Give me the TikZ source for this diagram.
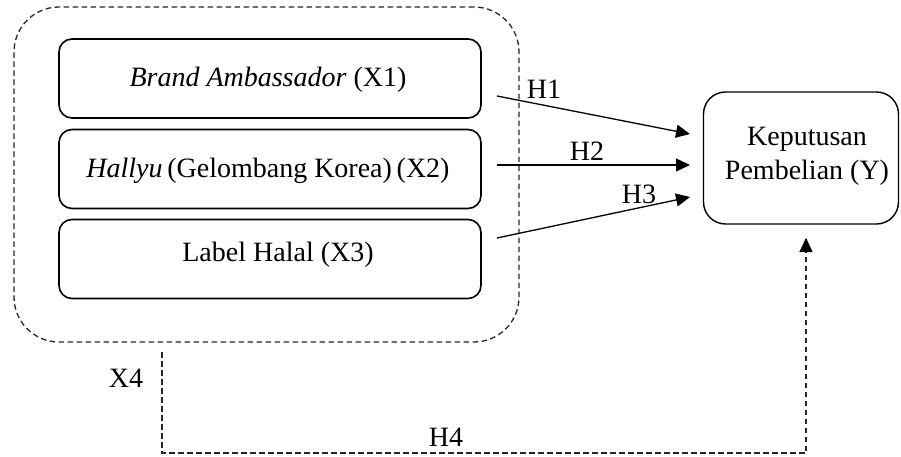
\documentclass[tikz,border=0pt]{standalone}
\usepackage{fontspec}
\setmainfont{Liberation Serif}
\usetikzlibrary{arrows.meta}
\begin{document}
\begin{tikzpicture}[x=1pt,y=-1pt,
  every node/.style={font=\fontsize{28}{34}\selectfont, inner sep=0pt},
  varbox/.style={draw, line width=1.6pt, rounded corners=13pt, minimum width=422pt, minimum height=79pt},
  ybox/.style={draw, line width=1.4pt, rounded corners=22pt, minimum width=195pt, minimum height=132pt},
  grp/.style={draw=black!85, line width=1.3pt, dash pattern=on 5.5pt off 3.5pt, rounded corners=45pt, minimum width=505pt, minimum height=335pt},
  dline/.style={draw=black!85, line width=1.3pt, dash pattern=on 5.5pt off 3.5pt},
  arr/.style={line width=1.3pt, -{Triangle[length=14pt,width=13pt]}},
  lbl/.style={fill=none}
]
\useasboundingbox (0,0) rectangle (901,457);
\node[grp] (g) at (266.5,174.5) {};
\node[varbox] (b1) at (270,78.5) {};
\node at (268,80) {\textit{Brand Ambassador} (X1)};
\node[varbox] (b2) at (270,169) {};
\node at (268,171) {\textit{Hallyu}\,(Gelombang Korea)\,(X2)};
\node[varbox] (b3) at (270,259) {};
\node at (278,255) {Label Halal (X3)};
\node[ybox] (y) at (801,158) {};
\node[align=center] (yt) at (807,156) {Keputusan\\Pembelian (Y)};
\coordinate (s1) at (497,96);
\coordinate (s2) at (497,165);
\coordinate (s3) at (497,238);
\coordinate (e1) at (690,134);
\coordinate (e2) at (690,165);
\coordinate (e3) at (690,197);
\draw[arr] (s1) -- (e1);
\draw[arr] (s2) -- (e2);
\draw[arr] (s3) -- (e3);
\node[lbl] (h1) at (544,89) {H1};
\node[lbl] (h2) at (587,151) {H2};
\node[lbl] (h3) at (639,194) {H3};
\coordinate (x4) at (162,352);
\coordinate (c1) at (162,453);
\coordinate (h4t) at (806,238);
\draw[dline] (x4) -- (c1) -| ([yshift=-1pt]h4t);
\draw[arr] ([yshift=-14pt]h4t) -- (h4t);
\node (x4l) at (126,378) {X4};
\node (h4l) at (446,437) {H4};
\end{tikzpicture}
\end{document}
